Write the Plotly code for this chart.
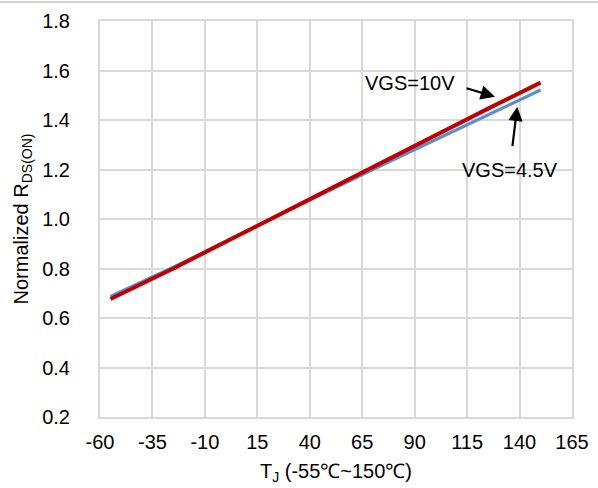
import plotly.graph_objects as go

temps = [-55, -25, 0, 25, 50, 75, 100, 125, 150]
vgs45 = [0.687, 0.805, 0.91, 1.015, 1.118, 1.22, 1.32, 1.42, 1.521]
vgs10 = [0.677, 0.80, 0.908, 1.016, 1.124, 1.232, 1.34, 1.446, 1.551]
xticks = [-60, -35, -10, 15, 40, 65, 90, 115, 140, 165]
yticks = [0.2, 0.4, 0.6, 0.8, 1.0, 1.2, 1.4, 1.6, 1.8]

FONT = "Liberation Sans, Arial, sans-serif"
GRID = "#D9D9D9"

fig = go.Figure()
fig.add_trace(go.Scatter(x=temps, y=vgs45, mode="lines", name="VGS=4.5V",
                         line=dict(color="#5B8ED1", width=3.2)))
fig.add_trace(go.Scatter(x=temps, y=vgs10, mode="lines", name="VGS=10V",
                         line=dict(color="#C00000", width=4)))

fig.update_layout(
    width=598, height=488,
    margin=dict(l=100, r=26, t=21, b=71),
    paper_bgcolor="white", plot_bgcolor="white",
    showlegend=False,
    font=dict(family=FONT, size=20, color="#000000"),
)
fig.update_xaxes(range=[-60, 165], tickvals=xticks, ticktext=[str(v) for v in xticks],
                 showgrid=True, gridcolor=GRID, gridwidth=2,
                 showline=True, linecolor=GRID, linewidth=2, mirror=True,
                 zeroline=False, ticks="", ticklabelstandoff=6, automargin=False,
                 title=dict(text="T<sub>J</sub> (-55℃~150℃)", font=dict(size=20), standoff=12))
fig.update_yaxes(range=[0.2, 1.8], tickvals=yticks, ticktext=[f"{v:.1f}" for v in yticks],
                 showgrid=True, gridcolor=GRID, gridwidth=2,
                 showline=True, linecolor=GRID, linewidth=2, mirror=True,
                 zeroline=False, ticks="", ticklabelstandoff=24, automargin=False,
                 title=dict(text="Normalized R<sub>DS(ON)</sub>", font=dict(size=20), standoff=8))

# labels
fig.add_annotation(x=87.8, y=1.549, text="VGS=10V", showarrow=False,
                   font=dict(size=20), xanchor="center", yanchor="middle")
fig.add_annotation(x=135.4, y=1.198, text="VGS=4.5V", showarrow=False,
                   font=dict(size=20), xanchor="center", yanchor="middle")
# arrows
fig.add_annotation(x=128.3, y=1.494, ax=-30, ay=-9, text="", showarrow=True,
                   arrowhead=2, arrowsize=1.3, arrowwidth=2.2, arrowcolor="black", standoff=0)
fig.add_annotation(x=138.9, y=1.454, ax=-5, ay=41, text="", showarrow=True,
                   arrowhead=2, arrowsize=1.3, arrowwidth=2.2, arrowcolor="black", standoff=0)

# thin top border line of the image
fig.add_shape(type="line", xref="paper", yref="paper",
              x0=-100/472, x1=498/472, y0=1 + 19/396, y1=1 + 19/396,
              line=dict(color="#A6A6A6", width=1))

fig.write_html("out.html")
